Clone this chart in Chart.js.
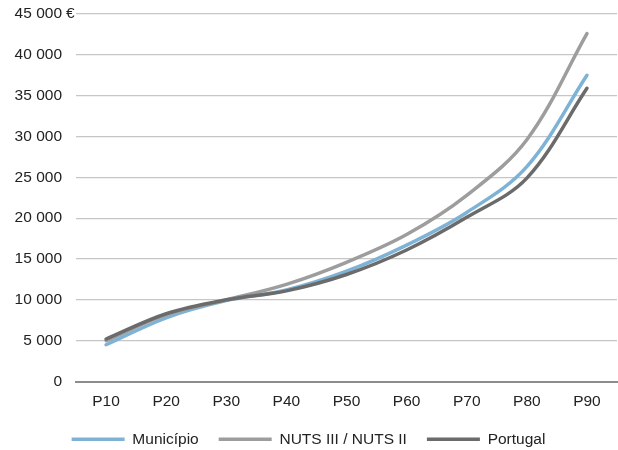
<!DOCTYPE html>
<html lang="pt">
<head>
    <meta charset="UTF-8">
    <title>Percentis</title>
    <script src="https://cdn.jsdelivr.net/npm/chart.js"></script>
    <style>
        body { margin: 0; background: #fff; }
        #wrap { width: 618px; height: 450px; }
    </style>
</head>
<body>
    <div id="wrap">
        <canvas id="myChart" width="618" height="450"></canvas>
    </div>
<script>
    const labels = ['P10', 'P20', 'P30', 'P40', 'P50', 'P60', 'P70', 'P80', 'P90'];

    const municipio = [4500, 7800, 9900, 11200, 13500, 16700, 20700, 26300, 37500];
    const nuts = [5000, 8200, 10000, 11900, 14600, 18000, 22800, 29600, 42600];
    const portugal = [5200, 8300, 10000, 11100, 13100, 16100, 20100, 24900, 35900];

    const yTickLabels = ['0', '5 000', '10 000', '15 000', '20 000', '25 000', '30 000', '35 000', '40 000', '45 000'];
    const unidade = '€';

    const fonte = { family: "'Liberation Sans', Arial, sans-serif", size: 15.5 };

    // desenha o "€" a seguir ao ultimo valor do eixo y
    const euroPlugin = {
        id: 'euro',
        afterDraw(chart) {
            const y = chart.scales.y;
            const ctx = chart.ctx;
            ctx.save();
            ctx.font = '15.5px ' + fonte.family;
            ctx.fillStyle = '#222';
            ctx.textBaseline = 'middle';
            ctx.textAlign = 'left';
            ctx.fillText(unidade, y.right - 10, y.getPixelForValue(45000));
            ctx.restore();
        }
    };

    const data = {
        labels: labels,
        datasets: [{
            label: 'Município',
            data: municipio,
            borderColor: '#7fb3d5',
            backgroundColor: '#7fb3d5',
            borderWidth: 3.5,
            order: 2
        }, {
            label: 'NUTS III / NUTS II',
            data: nuts,
            borderColor: '#9d9d9d',
            backgroundColor: '#9d9d9d',
            borderWidth: 3.5,
            order: 1
        }, {
            label: 'Portugal',
            data: portugal,
            borderColor: '#6b6b6b',
            backgroundColor: '#6b6b6b',
            borderWidth: 3.5,
            order: 0
        }]
    };

    const config = {
        type: 'line',
        data: data,
        options: {
            responsive: false,
            animation: false,
            layout: { padding: { top: 14, right: 1, left: 0, bottom: -7 } },
            elements: {
                line: { tension: 0.35, borderCapStyle: 'round' },
                point: { radius: 0 }
            },
            scales: {
                x: {
                    offset: true,
                    afterFit(scale) { scale.height = 30; },
                    grid: { display: false, drawTicks: false },
                    border: { display: true, color: '#8c8c8c', width: 2 },
                    ticks: { color: '#222', font: fonte, padding: 11 }
                },
                y: {
                    min: 0,
                    max: 45000,
                    afterFit(scale) {
                        scale.width = 76;
                        scale.paddingTop = 0;
                    },
                    grid: { color: '#c6c6c6', lineWidth: 1.3, drawTicks: false },
                    border: { display: false },
                    ticks: {
                        stepSize: 5000,
                        color: '#222',
                        font: fonte,
                        padding: 14,
                        callback: (v) => yTickLabels[Math.round(v / 5000)]
                    }
                }
            },
            plugins: {
                tooltip: { enabled: false },
                legend: {
                    position: 'bottom',
                    labels: {
                        usePointStyle: true,
                        pointStyle: 'line',
                        pointStyleWidth: 53,
                        color: '#222',
                        font: fonte,
                        padding: 20,
                        sort: (a, b) => a.datasetIndex - b.datasetIndex
                    }
                }
            }
        },
        plugins: [euroPlugin]
    };

    const myChart = new Chart(document.getElementById('myChart'), config);
</script>
</body>
</html>
